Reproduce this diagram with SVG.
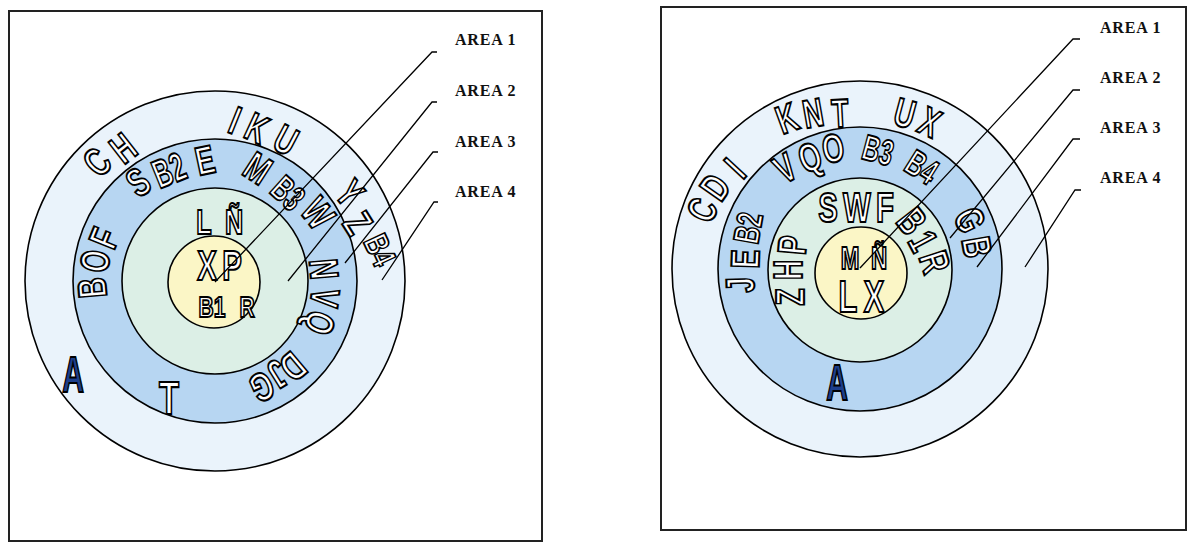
<svg xmlns="http://www.w3.org/2000/svg" width="1192" height="547" viewBox="0 0 1192 547">
<style>
.frame{fill:#fff;stroke:#222;stroke-width:2}
.a4{fill:#eaf3fb;stroke:#000;stroke-width:1.6}
.a2{fill:#b7d6f2;stroke:#000;stroke-width:1.6}
.a3{fill:#dcefe6;stroke:#000;stroke-width:1.6}
.a1{fill:#fbf6c6;stroke:#000;stroke-width:1.6}
.r{font-family:"Liberation Sans",Arial,sans-serif;font-weight:bold;font-size:40px;fill:#fff;stroke:#000;stroke-width:2.1;text-anchor:middle}
.dk{fill:#1d3f8c}
.lbl{font-family:"Liberation Serif","Times New Roman",serif;font-weight:bold;font-size:16px;letter-spacing:0.8px;fill:#111}
.lead{fill:none;stroke:#000;stroke-width:1.3}
</style>
<rect class="frame" x="9" y="11" width="533" height="530"/>
<rect class="frame" x="661" y="7" width="525" height="523"/>

<g id="left-area4"><circle class="a4" cx="215" cy="281" r="190"/></g>
<g id="left-area2"><circle class="a2" cx="215" cy="281" r="142"/></g>
<g id="left-area3"><circle class="a3" cx="215" cy="281" r="93"/></g>
<g id="left-area1"><circle class="a1" cx="214" cy="282" r="46"/></g>

<g id="right-area4"><circle class="a4" cx="860" cy="269" r="188"/></g>
<g id="right-area2"><circle class="a2" cx="860" cy="269" r="142"/></g>
<g id="right-area3"><circle class="a3" cx="860" cy="270" r="92"/></g>
<g id="right-area1"><circle class="a1" cx="861" cy="273" r="46"/></g>

<g id="left-letters">
<text class="r" transform="translate(97 162) rotate(-45) scale(.7 1)" y="14">C</text>
<text class="r" transform="translate(123 148) rotate(-38) scale(.7 1)" y="14">H</text>
<text class="r" transform="translate(235 120) rotate(22) scale(.7 1)" y="14">I</text>
<text class="r" transform="translate(257 128) rotate(25) scale(.7 1)" y="14">K</text>
<text class="r" transform="translate(286 140) rotate(28) scale(.7 1)" y="14">U</text>
<text class="r" transform="translate(350 193) rotate(50) scale(.7 1)" y="14">Y</text>
<text class="r" transform="translate(358 223) rotate(58) scale(.7 1)" y="14">Z</text>
<text class="r" transform="translate(380 250) rotate(65) scale(.6 .85)" y="14">B4</text>
<text class="r" transform="translate(138 182) rotate(-35) scale(.7 1)" y="14">S</text>
<text class="r" transform="translate(169 170) rotate(-22) scale(.62 1)" y="14">B2</text>
<text class="r" transform="translate(205 160) rotate(-12) scale(.7 1)" y="14">E</text>
<text class="r" transform="translate(258 168) rotate(33) scale(.7 1)" y="14">M</text>
<text class="r" transform="translate(288 193) rotate(42) scale(.6 .9)" y="14">B3</text>
<text class="r" transform="translate(318 213) rotate(52) scale(.7 1)" y="14">W</text>
<text class="r" transform="translate(324 269) rotate(85) scale(.7 1)" y="14">N</text>
<text class="r" transform="translate(325 298) rotate(97) scale(.7 1)" y="14">V</text>
<text class="r" transform="translate(320 323) rotate(110) scale(.7 1)" y="14">Q</text>
<text class="r" transform="translate(293 367) rotate(140) scale(.7 1)" y="14">D</text>
<text class="r" transform="translate(278 374) rotate(148) scale(.7 1)" y="14">J</text>
<text class="r" transform="translate(262 387) rotate(156) scale(.7 1)" y="14">G</text>
<text class="r" transform="translate(92 288) rotate(-95) scale(.7 1)" y="14">B</text>
<text class="r" transform="translate(95 261) rotate(-82) scale(.7 1)" y="14">O</text>
<text class="r" transform="translate(104 238) rotate(-68) scale(.7 1)" y="14">F</text>
<text class="r" transform="translate(204 221) scale(.7 1)" y="13" style="font-size:36px">L</text>
<text class="r" transform="translate(234 221) scale(.7 1)" y="13" style="font-size:36px">Ñ</text>
<text class="r" transform="translate(207 265) scale(.7 1)" y="15" style="font-size:42px">X</text>
<text class="r" transform="translate(232 265) scale(.7 1)" y="15" style="font-size:42px">P</text>
<text class="r" transform="translate(212 306) scale(.7 1)" y="10.7" style="font-size:30px">B1</text>
<text class="r" transform="translate(247 306) scale(.7 1)" y="10.7" style="font-size:30px">R</text>
<text class="r dk" transform="translate(73 374) scale(.6 1)" y="18" style="font-size:50px">A</text>
<text class="r" transform="translate(169 397) scale(.7 1)" y="17" style="font-size:47px">T</text>
</g>

<g id="right-letters">
<text class="r" transform="translate(702 210) rotate(-65) scale(.7 1)" y="14">C</text>
<text class="r" transform="translate(715 187) rotate(-55) scale(.7 1)" y="14">D</text>
<text class="r" transform="translate(735 168) rotate(-47) scale(.7 1)" y="14">I</text>
<text class="r" transform="translate(787 118) rotate(-20) scale(.7 1)" y="14">K</text>
<text class="r" transform="translate(813 113) rotate(-10) scale(.7 1)" y="14">N</text>
<text class="r" transform="translate(840 113) rotate(-3) scale(.7 1)" y="14">T</text>
<text class="r" transform="translate(905 113) rotate(15) scale(.7 1)" y="14">U</text>
<text class="r" transform="translate(930 122) rotate(25) scale(.7 1)" y="14">X</text>
<text class="r" transform="translate(785 168) rotate(-30) scale(.7 1)" y="14">V</text>
<text class="r" transform="translate(810 157) rotate(-20) scale(.7 1)" y="14">Q</text>
<text class="r" transform="translate(833 148) rotate(-10) scale(.7 1)" y="14">O</text>
<text class="r" transform="translate(878 150) rotate(15) scale(.6 .9)" y="14">B3</text>
<text class="r" transform="translate(922 167) rotate(32) scale(.6 .9)" y="14">B4</text>
<text class="r" transform="translate(970 220) rotate(65) scale(.7 1)" y="14">G</text>
<text class="r" transform="translate(977 247) rotate(80) scale(.7 1)" y="14">B</text>
<text class="r" transform="translate(740 285) rotate(-92) scale(.7 1)" y="14">J</text>
<text class="r" transform="translate(745 259) rotate(-88) scale(.7 1)" y="14">E</text>
<text class="r" transform="translate(748 228) rotate(-80) scale(.6 .9)" y="14">B2</text>
<text class="r" transform="translate(790 297) rotate(-90) scale(.7 1)" y="14">Z</text>
<text class="r" transform="translate(788 270) rotate(-90) scale(.7 1)" y="14">H</text>
<text class="r" transform="translate(792 245) rotate(-85) scale(.7 1)" y="14">P</text>
<text class="r" transform="translate(912 221) rotate(52) scale(.7 1)" y="14">B</text>
<text class="r" transform="translate(923 241) rotate(62) scale(.7 1)" y="14">1</text>
<text class="r" transform="translate(935 262) rotate(72) scale(.7 1)" y="14">R</text>
<text class="r" transform="translate(828 207) scale(.7 1)" y="15" style="font-size:42px">S</text>
<text class="r" transform="translate(857 207) scale(.7 1)" y="15" style="font-size:42px">W</text>
<text class="r" transform="translate(885 207) scale(.7 1)" y="15" style="font-size:42px">F</text>
<text class="r" transform="translate(850 257) scale(.7 1)" y="11.5" style="font-size:32px">M</text>
<text class="r" transform="translate(879 257) scale(.7 1)" y="11.5" style="font-size:32px">Ñ</text>
<text class="r" transform="translate(848 296) scale(.7 1)" y="15.7" style="font-size:44px">L</text>
<text class="r" transform="translate(874 296) scale(.7 1)" y="15.7" style="font-size:44px">X</text>
<text class="r dk" transform="translate(837 382) scale(.6 1)" y="18" style="font-size:50px">A</text>
</g>

<g id="connectors">
<path class="lead" d="M437,52 L432,52 L215,282"/>
<path class="lead" d="M437,102 L432,102 L288,281"/>
<path class="lead" d="M438,152 L433,152 L345,263"/>
<path class="lead" d="M438,202 L434,202 L382,280"/>
<path class="lead" d="M1080,39 L1073,39 L860,268"/>
<path class="lead" d="M1080,90 L1073,90 L950,238"/>
<path class="lead" d="M1080,139 L1073,139 L977,267"/>
<path class="lead" d="M1081,190 L1075,190 L1025,267"/>
</g>

<g id="left-labels">
<text class="lbl" x="455" y="45">AREA 1</text>
<text class="lbl" x="455" y="96">AREA 2</text>
<text class="lbl" x="455" y="147">AREA 3</text>
<text class="lbl" x="455" y="197">AREA 4</text>
</g>
<g id="right-labels">
<text class="lbl" x="1100" y="33">AREA 1</text>
<text class="lbl" x="1100" y="83">AREA 2</text>
<text class="lbl" x="1100" y="133">AREA 3</text>
<text class="lbl" x="1100" y="183">AREA 4</text>
</g>
</svg>
